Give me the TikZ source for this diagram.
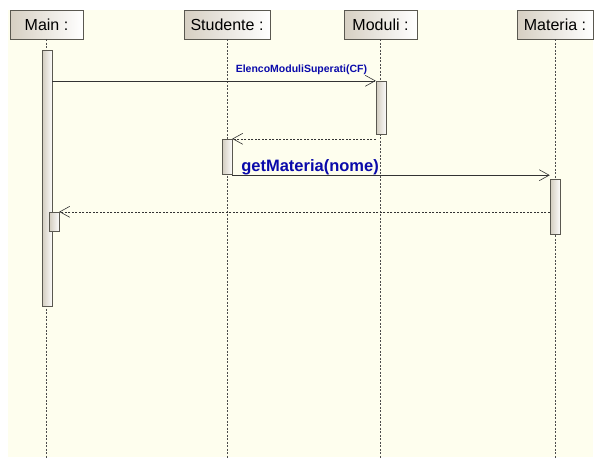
\documentclass[tikz,border=0pt]{standalone}
\usepackage{fontspec}
\setmainfont{Liberation Sans}
\usepackage{tikz}
\usetikzlibrary{positioning,arrows.meta,calc}
\definecolor{colorback}{RGB}{254,254,238}
\definecolor{colorhead}{RGB}{214,207,194}
\definecolor{colorbar} {RGB}{210,204,190}
\definecolor{colorrim} {RGB}{90,88,80}
\definecolor{colormsg} {RGB}{10,10,170}

\begin{document}
\begin{tikzpicture}[
    x=1pt,y=-1pt,
    head/.style={draw=colorrim,left color=colorhead,right color=white,inner sep=0pt,
        minimum height=29pt,font={\fontsize{16}{19}\selectfont}},
    bar/.style={draw=colorrim,left color=colorbar,right color=white!92!colorbar,
        inner sep=0pt,minimum width=10pt},
    life/.style={dashed,dash pattern=on 2pt off 1.5pt,color=black!70,line width=0.6pt},
    msg/.style={-{Straight Barb[length=10pt,width=11pt]},line width=0.6pt,color=black!80},
    ret/.style={msg,dash pattern=on 2pt off 1.5pt},
    lbl/.style={font={\bfseries},color=colormsg,inner sep=1.5pt}
]

    \useasboundingbox (0,0) rectangle (604,467);
    \fill[colorback] (8,10) rectangle (593,457);

    % lifelines
    \coordinate (bottom) at (0,458);
    \node[head,minimum width=73pt] (main) at (46.5,24.5) {Main :};
    \node[head,minimum width=86pt] (stud) at (227,24.5) {Studente :};
    \node[head,minimum width=73pt] (mod)  at (380.5,24.5) {Moduli :};
    \node[head,minimum width=76pt] (mat)  at (555,24.5) {Materia :};
    \foreach \who in {main,stud,mod,mat}
        \draw[life] (\who.south) -- (\who.south |- bottom);

    % activations
    \node[bar,minimum height=256pt] (mainact) at (47,178)   {};
    \node[bar,minimum height=19pt]  (subact)  at (54,221.5) {};
    \node[bar,minimum height=35pt]  (studact) at (227,156.5) {};
    \node[bar,minimum height=53pt]  (modact)  at (381,107.5) {};
    \node[bar,minimum height=55pt]  (matact)  at (555,206.5) {};

    % messages
    \draw[msg] (mainact.east |- modact.north) -- (modact.north west)
        node[lbl,pos=0.77,above=4pt,font={\fontsize{10.5}{12}\selectfont\bfseries}] {ElencoModuliSuperati(CF)};
    \draw[ret] (modact.west |- studact.north) -- (studact.north east);
    \draw[msg] ([yshift=-1pt]studact.south east) -- ([yshift=-1pt]matact.west |- studact.south)
        node[lbl,pos=0.245,above=-2pt,font={\fontsize{16.5}{19}\selectfont\bfseries}] {getMateria(nome)};
    \draw[ret] (matact.west |- subact.north) -- (subact.north east);

\end{tikzpicture}
\end{document}
